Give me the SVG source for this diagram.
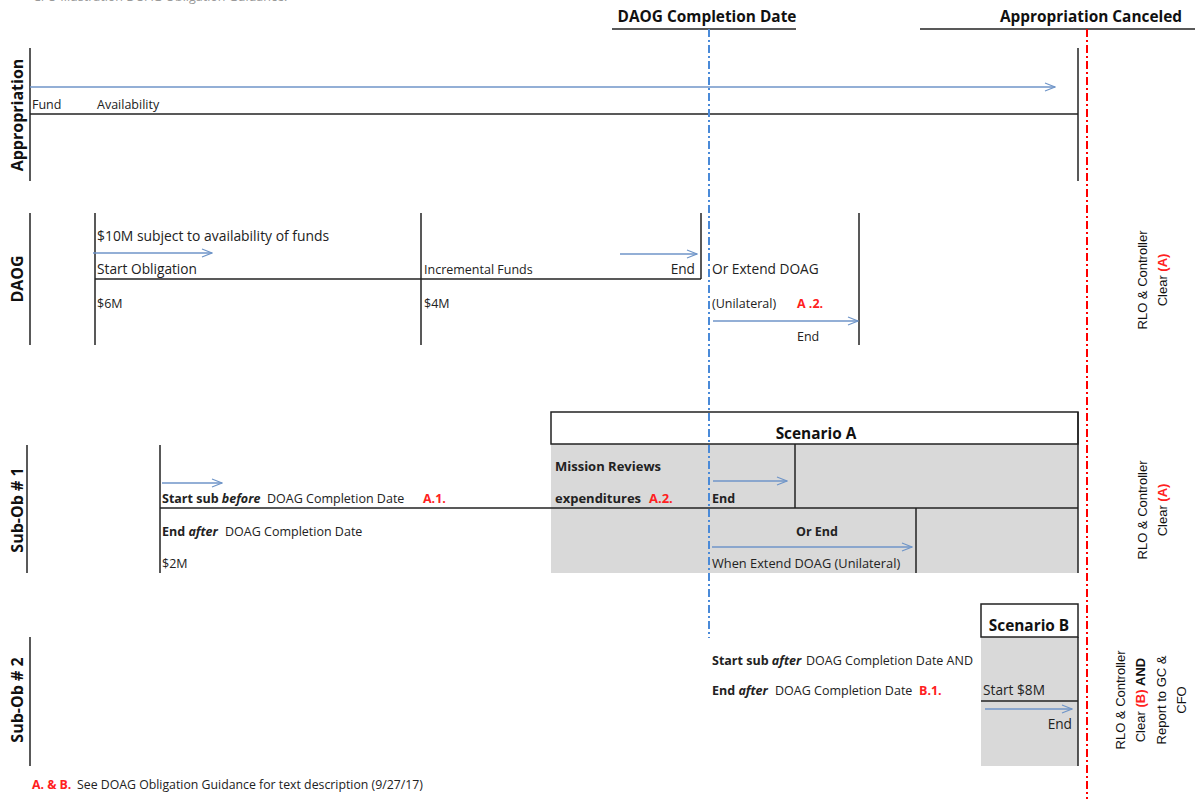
<svg xmlns="http://www.w3.org/2000/svg" width="1195" height="799" viewBox="0 0 1195 799">
<defs>
<marker id="ah" markerWidth="12" markerHeight="10" refX="11" refY="5" orient="auto" markerUnits="userSpaceOnUse">
<path d="M1,1 L11,5 L1,9" fill="none" stroke="#6f95c8" stroke-width="1.2"/>
</marker>
<style>
text{font-family:"Open Sans","Liberation Sans",Arial,sans-serif;fill:#222}
.t{font-size:12.5px}
.t2{font-size:13.7px}
.b{font-weight:bold}
.h{font-size:15.4px;font-weight:bold;fill:#111}
.lab{font-size:16px;font-weight:bold;fill:#111}
.red{fill:#ff2020;font-weight:bold}
.side{font-family:"Liberation Sans",Arial,sans-serif;font-size:13px;fill:#111}
.ln{stroke:#222;stroke-width:1.5;fill:none}
.arr{stroke:#6f95c8;stroke-width:1.3;fill:none;marker-end:url(#ah)}
.gray{fill:#d9d9d9}
.foot{font-size:12.3px}
</style>
</defs>
<rect width="1195" height="799" fill="#fff"/>
<text x="33" y="1" class="t" style="fill:#999">CFO Illustration DOAG Obligation Guidance:</text>

<g id="headers">
<text x="707" y="22" class="h" text-anchor="middle">DAOG Completion Date</text>
<line x1="612" y1="29" x2="796" y2="29" class="ln"/>
<text x="1091" y="22" class="h" text-anchor="middle">Appropriation Canceled</text>
<line x1="920" y1="29" x2="1195" y2="29" class="ln"/>
</g>

<g id="scenarioA">
<rect x="551" y="444" width="527" height="129" class="gray"/>
<rect x="551" y="412" width="527" height="32" fill="#fff" stroke="#222" stroke-width="1.5"/>
<text x="816" y="439" class="h" text-anchor="middle">Scenario A</text>
<text x="555" y="471" class="t b" style="font-size:13px">Mission Reviews</text>
<text x="555" y="503" class="t b" style="font-size:13px">expenditures<tspan x="649" class="red">A.2.</tspan></text>
<text x="712" y="503" class="t b">End</text>
<line x1="795" y1="444" x2="795" y2="508" class="ln"/>
<text x="817" y="536" class="t b" text-anchor="middle">Or End</text>
<text x="712" y="568" class="t" style="font-size:12.8px">When Extend DOAG (Unilateral)</text>
<line x1="916" y1="508" x2="916" y2="573" class="ln"/>
<line x1="1078" y1="412" x2="1078" y2="573" class="ln"/>
</g>

<g id="scenarioB">
<rect x="981" y="637" width="97" height="129" class="gray"/>
<rect x="981" y="604" width="97" height="33" fill="#fff" stroke="#222" stroke-width="1.5"/>
<text x="1029" y="631" class="h" text-anchor="middle">Scenario B</text>
<line x1="981" y1="701" x2="1078" y2="701" class="ln"/>
<line x1="1078" y1="637" x2="1078" y2="766" class="ln"/>
<text x="983" y="695" class="t2">Start $8M</text>
<text x="1072" y="729" class="t2" text-anchor="end">End</text>
</g>

<g id="appropriation">
<text transform="translate(23,115) rotate(-90)" class="lab" text-anchor="middle">Appropriation</text>
<line x1="30" y1="48" x2="30" y2="181" class="ln"/>
<line x1="30" y1="114" x2="1078" y2="114" class="ln"/>
<line x1="1078" y1="48" x2="1078" y2="181" class="ln"/>
<text x="32" y="109" class="t">Fund</text>
<text x="97" y="109" class="t">Availability</text>
</g>

<g id="daog">
<text transform="translate(23,279) rotate(-90)" class="lab" text-anchor="middle">DAOG</text>
<line x1="30" y1="213" x2="30" y2="345" class="ln"/>
<line x1="95" y1="213" x2="95" y2="345" class="ln"/>
<line x1="95" y1="279" x2="701" y2="279" class="ln"/>
<line x1="701" y1="213" x2="701" y2="279" class="ln"/>
<line x1="421" y1="213" x2="421" y2="345" class="ln"/>
<line x1="859" y1="213" x2="859" y2="345" class="ln"/>
<text x="97" y="241" class="t" style="font-size:13.9px">$10M subject to availability of funds</text>
<text x="97" y="274" class="t2">Start Obligation</text>
<text x="97" y="308" class="t">$6M</text>
<text x="424" y="274" class="t">Incremental Funds</text>
<text x="424" y="308" class="t">$4M</text>
<text x="695" y="274" class="t2" text-anchor="end">End</text>
<text x="712" y="274" class="t2">Or Extend DOAG</text>
<text x="712" y="308" class="t">(Unilateral)<tspan x="797" class="red">A .2.</tspan></text>
<text x="797" y="341" class="t">End</text>
</g>

<g id="subob1">
<text transform="translate(23,510) rotate(-90)" class="lab" text-anchor="middle">Sub-Ob # 1</text>
<line x1="27" y1="445" x2="27" y2="573" class="ln"/>
<line x1="160" y1="445" x2="160" y2="573" class="ln"/>
<line x1="160" y1="508" x2="1078" y2="508" class="ln"/>
<text x="162" y="503" class="t"><tspan class="b">Start sub <tspan font-style="italic">before</tspan></tspan><tspan x="267">DOAG Completion Date</tspan><tspan x="423" class="red">A.1.</tspan></text>
<text x="162" y="536" class="t"><tspan class="b">End <tspan font-style="italic">after</tspan></tspan><tspan x="225">DOAG Completion Date</tspan></text>
<text x="162" y="568" class="t">$2M</text>
</g>

<g id="subob2">
<text transform="translate(23,700) rotate(-90)" class="lab" text-anchor="middle">Sub-Ob # 2</text>
<line x1="30" y1="637" x2="30" y2="766" class="ln"/>
<text x="712" y="665" class="t"><tspan class="b">Start sub <tspan font-style="italic">after</tspan></tspan><tspan x="806">DOAG Completion Date AND</tspan></text>
<text x="712" y="695" class="t"><tspan class="b">End <tspan font-style="italic">after</tspan></tspan><tspan x="775">DOAG Completion Date</tspan><tspan x="919" class="red">B.1.</tspan></text>
</g>

<g id="notes">
<text transform="translate(1147,280) rotate(-90)" class="side" text-anchor="middle">RLO &amp; Controller</text>
<text transform="translate(1167,280) rotate(-90)" class="side" text-anchor="middle">Clear <tspan class="red">(A)</tspan></text>
<text transform="translate(1147,510) rotate(-90)" class="side" text-anchor="middle">RLO &amp; Controller</text>
<text transform="translate(1167,510) rotate(-90)" class="side" text-anchor="middle">Clear <tspan class="red">(A)</tspan></text>
<text transform="translate(1125,700) rotate(-90)" class="side" text-anchor="middle">RLO &amp; Controller</text>
<text transform="translate(1145,700) rotate(-90)" class="side" text-anchor="middle">Clear <tspan class="red">(B)</tspan> <tspan font-weight="bold">AND</tspan></text>
<text transform="translate(1166,700) rotate(-90)" class="side" text-anchor="middle">Report to GC &amp;</text>
<text transform="translate(1186,700) rotate(-90)" class="side" text-anchor="middle">CFO</text>
<text x="32" y="789" class="foot"><tspan class="red">A. &amp; B.</tspan><tspan x="77">See DOAG Obligation Guidance for text description (9/27/17)</tspan></text>
</g>

<g id="connectors">
<line x1="709" y1="29" x2="709" y2="638" stroke="#4a8ad8" stroke-width="2" stroke-dasharray="8,3,2,3"/>
<line x1="1087" y1="29" x2="1087" y2="799" stroke="#ff0000" stroke-width="2" stroke-dasharray="8,3,2,3"/>
<line x1="30" y1="87" x2="1055" y2="87" class="arr"/>
<line x1="93" y1="253" x2="212" y2="253" class="arr"/>
<line x1="620" y1="254" x2="697" y2="254" class="arr"/>
<line x1="713" y1="321" x2="858" y2="321" class="arr"/>
<line x1="162" y1="483" x2="222" y2="483" class="arr"/>
<line x1="713" y1="481" x2="787" y2="481" class="arr"/>
<line x1="712" y1="547" x2="912" y2="547" class="arr"/>
<line x1="985" y1="709" x2="1072" y2="709" class="arr"/>
</g>
</svg>
